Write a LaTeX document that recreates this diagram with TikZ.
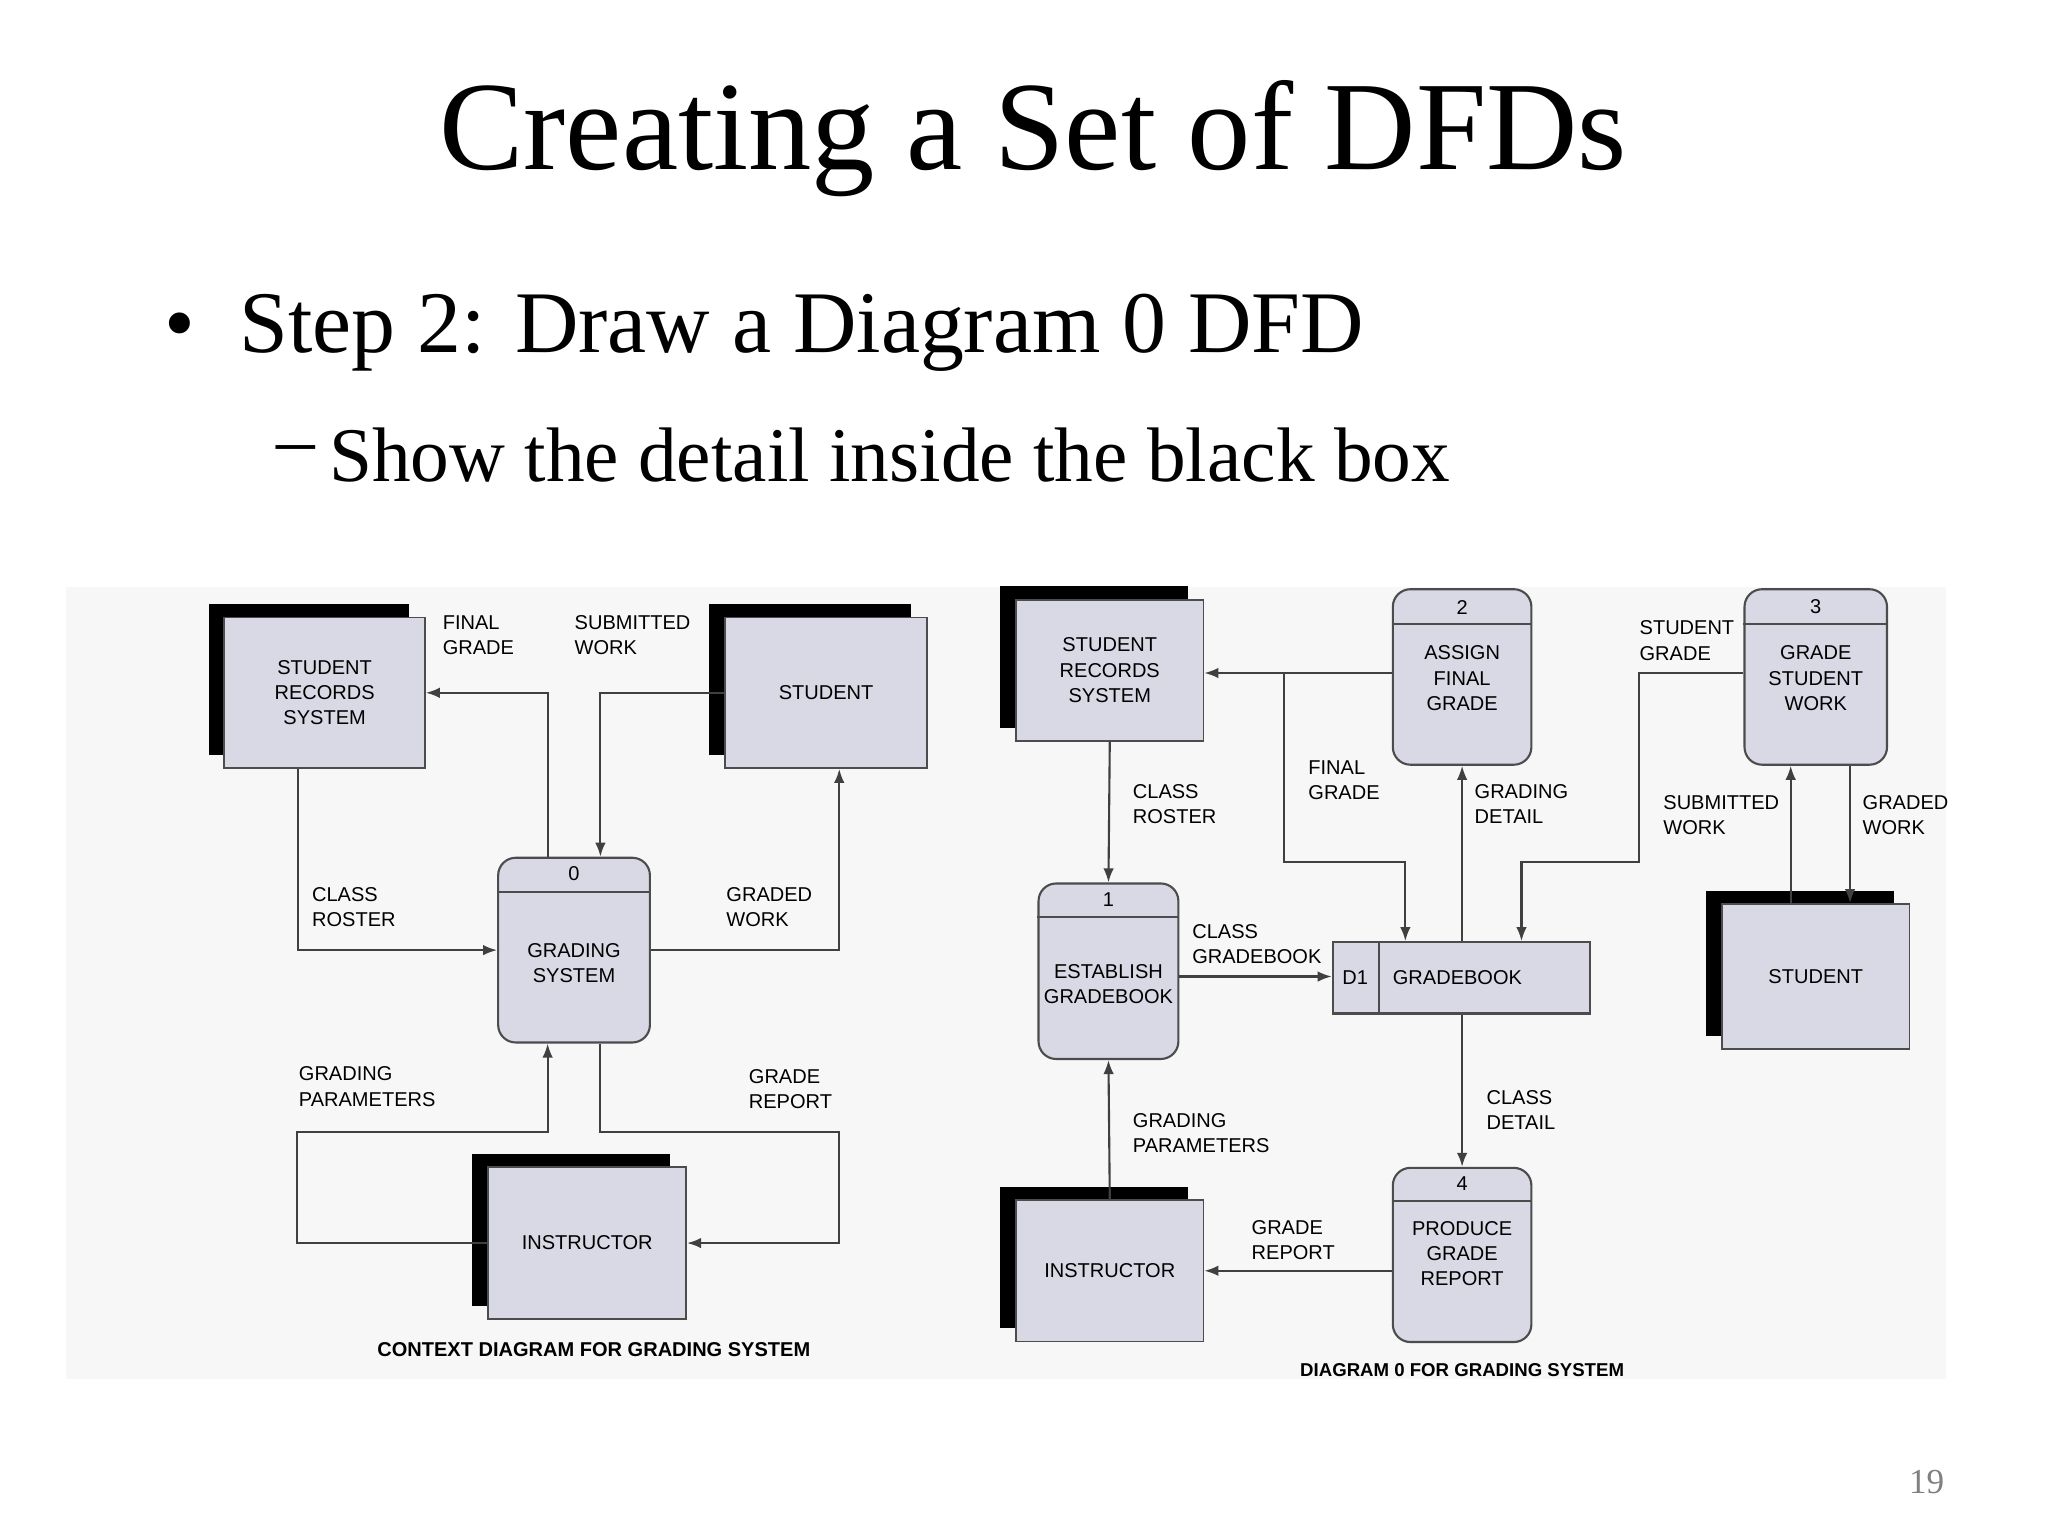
\documentclass[tikz,border=0pt]{standalone}
\usepackage{fontspec}
\setmainfont{Liberation Serif}
\newfontfamily\dfd{Liberation Sans}
\usetikzlibrary{shadows,arrows.meta}
\begin{document}
\begin{tikzpicture}[x=0.013196cm,y=-0.013196cm,
  lbl/.style={font=\dfd\fontsize{5.7}{7.2}\selectfont,align=left,anchor=north west,inner sep=0},
  ent/.style={draw=black!70,fill=blue!20!gray!25!white,line width=0.5pt,font=\dfd\fontsize{5.7}{7.2}\selectfont,align=center,
     general shadow={shadow xshift=-4.5pt,shadow yshift=3.8pt,fill=black}},
  proc/.style={draw=black!70,fill=blue!20!gray!25!white,line width=0.6pt,rounded corners=5pt,font=\dfd\fontsize{5.7}{7.2}\selectfont,align=center,inner sep=0},
  flow/.style={draw=black!75,line width=0.6pt,-{Latex[length=4pt,width=3pt]}}]
\useasboundingbox (0,0) rectangle (1552,1164);
\fill[white] (0,0) rectangle (1552,1164);
\fill[gray!6] (50,445) rectangle (1475,1045);
% titles
\node[font=\fontsize{36}{42}\selectfont] (t) at (783,105) {Creating a Set of DFDs};
\node[font=\fontsize{25}{30}\selectfont,anchor=west] (b1) at (115,252) {\textbullet};
\node[font=\fontsize{25}{30}\selectfont,anchor=west] (s1) at (172,252) {Step 2: Draw a Diagram 0 DFD};
\node[font=\fontsize{22}{28}\selectfont,anchor=west] (b2) at (200,345) {--};
\node[font=\fontsize{22}{28}\selectfont,anchor=west] (s2) at (240,345) {Show the detail inside the black box};
\node[font=\fontsize{10}{12}\selectfont,text=gray] (pg) at (1460,1123) {19};

% ===== left: context diagram
\node[ent,minimum width=152*0.3755pt,minimum height=114*0.3755pt] (srs) at (246,525) {STUDENT\\RECORDS\\SYSTEM};
\node[ent,minimum width=153*0.3755pt,minimum height=114*0.3755pt] (stu) at (626,525) {STUDENT};
\node[ent,minimum width=150*0.3755pt,minimum height=115*0.3755pt] (ins) at (445,942) {INSTRUCTOR};
\node[proc,minimum width=115*0.3755pt,minimum height=140*0.3755pt] (g) at (435,720) {};
\draw[black!70,line width=0.6pt] (g.west |- 0,676) -- (g.east |- 0,676);
\node[lbl,anchor=center] (g0) at (435,662) {0};
\node[lbl,anchor=center,align=center] (gt) at (435,730) {GRADING\\SYSTEM};
\coordinate (c415) at (415,0); \coordinate (c455) at (455,0);
\coordinate (c226) at (226,0); \coordinate (c636) at (636,0);
\coordinate (p1) at (225,858); \coordinate (p2) at (636,858);
\draw[flow] (g.north -| c415) |- (srs.east);
\draw[flow] (stu.west) -| (g.north -| c455);
\draw[flow] (srs.south -| c226) |- (g.west);
\draw[flow] (g.east) -| (stu.south -| c636);
\draw[flow] (ins.west) -| (p1) -| (g.south -| c415);
\draw[flow] (g.south -| c455) |- (p2) |- (ins.east);
\node[lbl] at (335,466) {FINAL\\GRADE};
\node[lbl] at (435,466) {SUBMITTED\\WORK};
\node[lbl] at (236,672) {CLASS\\ROSTER};
\node[lbl] at (550,672) {GRADED\\WORK};
\node[lbl] at (226,808) {GRADING\\PARAMETERS};
\node[lbl] at (567,810) {GRADE\\REPORT};
\node[lbl,anchor=center,font=\dfd\bfseries\fontsize{5.7}{7}\selectfont] at (450,1023) {CONTEXT DIAGRAM FOR GRADING SYSTEM};

% ===== right: diagram 0
\node[ent,minimum width=142*0.3755pt,minimum height=107*0.3755pt] (srs2) at (841,508) {STUDENT\\RECORDS\\SYSTEM};
\node[ent,minimum width=142*0.3755pt,minimum height=110*0.3755pt] (stu2) at (1376,740) {STUDENT};
\node[ent,minimum width=142*0.3755pt,minimum height=107*0.3755pt] (ins2) at (841,963) {INSTRUCTOR};
\node[proc,minimum width=105*0.3755pt,minimum height=133*0.3755pt] (p2n) at (1108,513) {};
\node[proc,minimum width=108*0.3755pt,minimum height=133*0.3755pt] (p3n) at (1376,513) {};
\node[proc,minimum width=106*0.3755pt,minimum height=133*0.3755pt] (p1n) at (840,736) {};
\node[proc,minimum width=105*0.3755pt,minimum height=132*0.3755pt] (p4n) at (1108,951) {};
\draw[black!70,line width=0.6pt] (p2n.west |- 0,473) -- (p2n.east |- 0,473);
\draw[black!70,line width=0.6pt] (p3n.west |- 0,473) -- (p3n.east |- 0,473);
\draw[black!70,line width=0.6pt] (p1n.west |- 0,695) -- (p1n.east |- 0,695);
\draw[black!70,line width=0.6pt] (p4n.west |- 0,910) -- (p4n.east |- 0,910);
\node[lbl,anchor=center] at (1108,460) {2};
\node[lbl,anchor=center] at (1376,460) {3};
\node[lbl,anchor=center] at (840,682) {1};
\node[lbl,anchor=center] at (1108,897) {4};
\node[lbl,anchor=center,align=center] at (1108,514) {ASSIGN\\FINAL\\GRADE};
\node[lbl,anchor=center,align=center] at (1376,514) {GRADE\\STUDENT\\WORK};
\node[lbl,anchor=center,align=center] at (840,746) {ESTABLISH\\GRADEBOOK};
\node[lbl,anchor=center,align=center] at (1108,950) {PRODUCE\\GRADE\\REPORT};
\node[draw=black!70,fill=blue!20!gray!25!white,line width=0.6pt,minimum width=195*0.3755pt,minimum height=54*0.3755pt] (ds) at (1107.5,741) {};
\draw[black!70,line width=0.6pt] (1045,714) -- (1045,768);
\node[lbl,anchor=center] at (1027,741) {D1};
\node[lbl,anchor=west] at (1055,741) {GRADEBOOK};
\coordinate (c973) at (973,0); \coordinate (c1065) at (1065,0);
\coordinate (c1108) at (1108,0); \coordinate (c1153) at (1153,0);
\coordinate (c1357) at (1357,0); \coordinate (c1402) at (1402,0);
\coordinate (q1) at (973,653); \coordinate (q2) at (1242,653);
\coordinate (r510) at (0,510); \coordinate (r963) at (0,963); \coordinate (r740) at (0,740);
\draw[flow] (p2n.west |- r510) -- (srs2.east |- r510);
\draw[flow] (q1 |- r510) -- (q1) -| (ds.north -| c1065);
\draw[flow] (ds.north -| c1108) -- (p2n.south -| c1108);
\draw[flow] (p3n.west |- r510) -| (q2) -| (ds.north -| c1153);
\draw[flow] (stu2.north -| c1357) -- (p3n.south -| c1357);
\draw[flow] (p3n.south -| c1402) -- (stu2.north -| c1402);
\draw[flow] (srs2.south) -- (p1n.north);
\draw[flow] (p1n.east |- r740) -- (ds.west |- r740);
\draw[flow] (ins2.north) -- (p1n.south);
\draw[flow] (ds.south -| c1108) -- (p4n.north);
\draw[flow] (p4n.west |- r963) -- (ins2.east |- r963);
\node[lbl] at (991,576) {FINAL\\GRADE};
\node[lbl] at (1117,594) {GRADING\\DETAIL};
\node[lbl] at (1242,470) {STUDENT\\GRADE};
\node[lbl] at (1260,602) {SUBMITTED\\WORK};
\node[lbl] at (1411,602) {GRADED\\WORK};
\node[lbl] at (858,594) {CLASS\\ROSTER};
\node[lbl] at (903,700) {CLASS\\GRADEBOOK};
\node[lbl] at (858,843) {GRADING\\PARAMETERS};
\node[lbl] at (1126,826) {CLASS\\DETAIL};
\node[lbl] at (948,924) {GRADE\\REPORT};
\node[lbl,anchor=center,font=\dfd\bfseries\fontsize{5.3}{7}\selectfont] at (1108,1038) {DIAGRAM 0 FOR GRADING SYSTEM};
\end{tikzpicture}
\end{document}
